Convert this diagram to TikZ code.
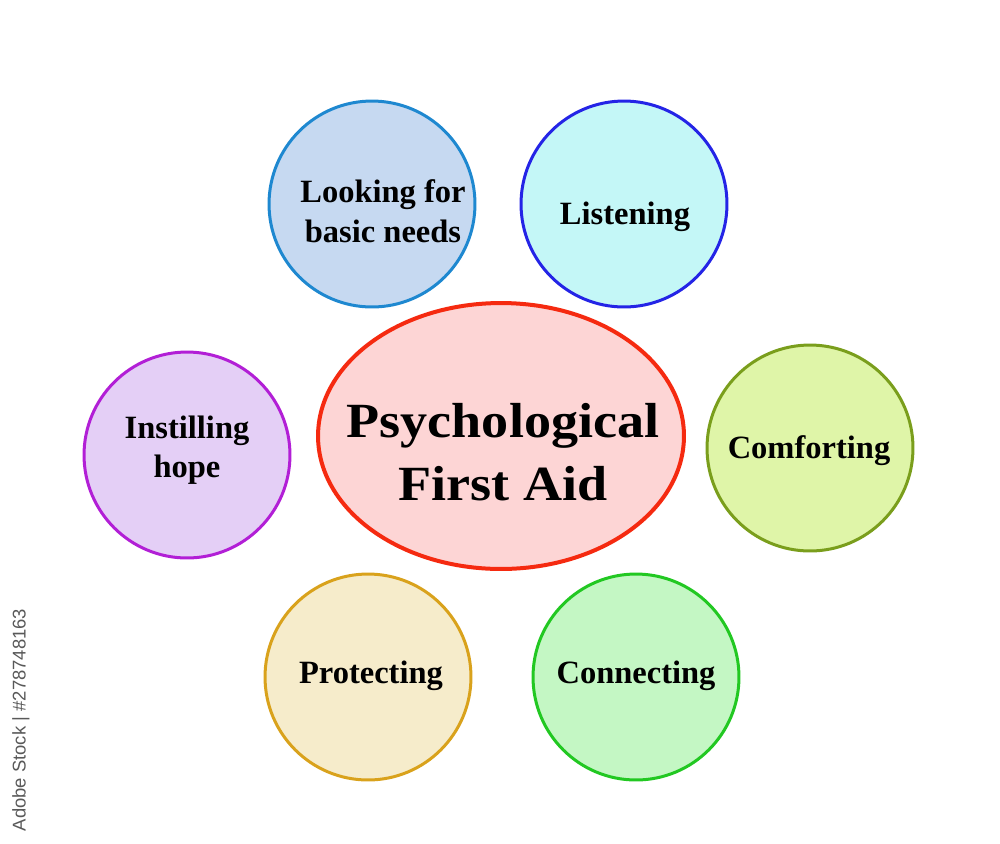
\documentclass[tikz,border=0pt]{standalone}
\usepackage{fontspec}
\setmainfont{Liberation Serif}
\setsansfont{Liberation Sans}
\usepackage{xcolor}
\usepackage{tikz}
\usetikzlibrary{shapes.geometric, positioning}
\definecolor{needsfill}{HTML}{C6D9F1}
\definecolor{needsline}{HTML}{1E88D0}
\definecolor{listenfill}{HTML}{C4F7F7}
\definecolor{listenline}{HTML}{2424E6}
\definecolor{comfortfill}{HTML}{DFF5A8}
\definecolor{comfortline}{HTML}{7A9E1C}
\definecolor{connectfill}{HTML}{C4F7C4}
\definecolor{connectline}{HTML}{22C822}
\definecolor{protectfill}{HTML}{F6ECCB}
\definecolor{protectline}{HTML}{D9A21C}
\definecolor{hopefill}{HTML}{E4CFF6}
\definecolor{hopeline}{HTML}{B21FD6}
\definecolor{pfafill}{HTML}{FDD5D5}
\definecolor{pfaline}{HTML}{F52A10}

\begin{document}
\begin{tikzpicture}[
    x=0.02cm, y=-0.02cm,
    topic/.style={circle, minimum size=4.12cm, inner sep=0pt, line width=0.06cm},
    word/.style={align=center, inner sep=0pt, font=\fontsize{18.5}{22.5}\selectfont\bfseries},
    hub/.style={ellipse, minimum width=7.32cm, minimum height=5.32cm, inner sep=0pt, line width=0.08cm},
    hubword/.style={align=center, inner sep=0pt, xscale=1.1, transform shape,
        font=\fontsize{28}{35.5}\selectfont\bfseries}
]
\useasboundingbox (0,0) rectangle (1000,843);

% Centre
\node[hub, draw=pfaline, fill=pfafill] (pfa) at (501,436) {};
\node[hubword] (pfaword) at (503,452) {Psychological\\First Aid};

% Surrounding topics
\node[topic, draw=needsline, fill=needsfill] (needs) at (372,204) {};
\node[topic, draw=listenline, fill=listenfill] (listen) at (624,204) {};
\node[topic, draw=comfortline, fill=comfortfill] (comfort) at (810,448) {};
\node[topic, draw=connectline, fill=connectfill] (connect) at (636,677) {};
\node[topic, draw=protectline, fill=protectfill] (protect) at (368,677) {};
\node[topic, draw=hopeline, fill=hopefill] (hope) at (187,455) {};

% Labels
\node[word] (needsword) at (383,211) {Looking for\\basic needs};
\node[word] (listenword) at (625,217) {Listening};
\node[word] (comfortword) at (809,451) {Comforting};
\node[word] (connectword) at (636,676) {Connecting};
\node[word] (protectword) at (371,676) {Protecting};
\node[word] (hopeword) at (187,450) {Instilling\\hope};

% Stock mark
\node[rotate=90, text=black!65, font=\sffamily\fontsize{10.5}{12}\selectfont] (mark) at (21,720) {Adobe Stock | \#278748163};
\end{tikzpicture}
\end{document}
